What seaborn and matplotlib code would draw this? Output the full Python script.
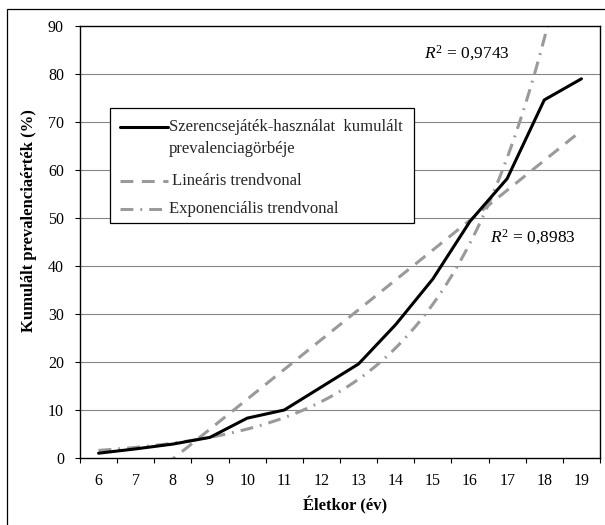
import numpy as np
import pandas as pd
import seaborn as sns
import matplotlib
matplotlib.use("Agg")
import matplotlib.pyplot as plt
from matplotlib.lines import Line2D
from matplotlib.patches import Rectangle

# Cumulative prevalence of gambling by age
ages = [6, 7, 8, 9, 10, 11, 12, 13, 14, 15, 16, 17, 18, 19]
prevalence = [1.0, 1.9, 2.9, 4.3, 8.3, 10.0, 14.8, 19.6, 27.8, 37.3, 49.3, 58.2, 74.6, 79.0]
y_ticks = [0, 10, 20, 30, 40, 50, 60, 70, 80, 90]

legend_labels = [
    "Szerencsejáték-használat  kumulált",
    "prevalenciagörbéje",
    "Lineáris trendvonal",
    "Exponenciális trendvonal",
]
r2_linear = "0,8983"
r2_exponential = "0,9743"
x_title = "Életkor (év)"
y_title = "Kumulált prevalenciaérték (%)"

sns.set_theme(style="white")
plt.rcParams["font.family"] = ["Liberation Serif", "DejaVu Serif"]
plt.rcParams["mathtext.fontset"] = "custom"
plt.rcParams["mathtext.rm"] = "Liberation Serif"
plt.rcParams["mathtext.it"] = "Liberation Serif:italic"

BLACK = "#000000"
TREND = "#9a9a9a"
GRID = "#868686"

df = pd.DataFrame({"age": ages, "prev": prevalence})

# Trend lines fitted on the category index (1..n), as a spreadsheet does
idx = np.arange(1, len(ages) + 1)
lin_coef = np.polyfit(idx, df["prev"], 1)
exp_coef = np.polyfit(idx, np.log(df["prev"]), 1)
grid_idx = np.linspace(1, len(ages), 300)
trend = pd.DataFrame({
    "age": grid_idx + ages[0] - 1,
    "lin": np.polyval(lin_coef, grid_idx),
    "exp": np.exp(np.polyval(exp_coef, grid_idx)),
})

fig = plt.figure(figsize=(6.05, 5.25), dpi=100)
ax = fig.add_axes([80 / 605, 1 - 458 / 525, 520 / 605, 432 / 525])

ax.set_xlim(ages[0] - 0.5, ages[-1] + 0.5)
ax.set_ylim(y_ticks[0], y_ticks[-1])

# Horizontal gridlines
for v in y_ticks[1:-1]:
    ax.axhline(v, color=GRID, lw=0.8, zorder=0)

DASH = (0, (4.2, 2.8))
DASHDOT = (0, (4.2, 2.3, 0.6, 2.3))

sns.lineplot(data=trend, x="age", y="lin", ax=ax, color=TREND, lw=2.2,
             linestyle=DASH, zorder=2)
sns.lineplot(data=trend, x="age", y="exp", ax=ax, color=TREND, lw=2.2,
             linestyle=DASHDOT, zorder=2)
sns.lineplot(data=df, x="age", y="prev", ax=ax, color=BLACK, lw=2.2, zorder=3)

# Category axis: ticks between categories, labels at centres
ax.set_xticks(np.arange(ages[0] - 0.5, ages[-1] + 1.0, 1.0))
ax.set_xticklabels([])
ax.set_xticks(ages, minor=True)
ax.set_xticklabels([str(a) for a in ages], minor=True)
ax.tick_params(axis="x", which="major", direction="out", length=3.6, width=0.8,
               color=BLACK, bottom=True)
ax.tick_params(axis="x", which="minor", length=0, pad=11, labelsize=11.5,
               labelcolor=BLACK, bottom=True)
ax.set_yticks(y_ticks)
ax.set_yticklabels([str(v) for v in y_ticks])
ax.tick_params(axis="y", direction="out", length=3.6, width=0.8, color=BLACK,
               pad=8, labelsize=11.5, labelcolor=BLACK, left=True)

for s in ax.spines.values():
    s.set_visible(True)
    s.set_color(BLACK)
    s.set_linewidth(1.0)

ax.set_xlabel(x_title, fontsize=12, fontweight="bold", color=BLACK)
ax.set_ylabel(y_title, fontsize=12, fontweight="bold", color=BLACK)
ax.xaxis.set_label_coords(0.51, -0.088)
ax.yaxis.set_label_coords(-0.083, 0.55)

# R² annotations
ax.text(14.77, 84.4, r"$R^2$ = " + r2_exponential, fontsize=12.5, va="center",
        ha="left", color=BLACK)
ax.text(16.53, 46.0, r"$R^2$ = " + r2_linear, fontsize=12.5, va="center",
        ha="left", color=BLACK)


def fx(px):
    return (px - 80) / 520


def fy(py):
    return (458 - py) / 432


# Legend box
ax.add_patch(Rectangle((fx(110), fy(223)), fx(414) - fx(110), fy(108) - fy(223),
                       transform=ax.transAxes, facecolor="white", edgecolor=BLACK,
                       lw=0.9, zorder=5))
handles = [
    (127, BLACK, "-"),
    (181, TREND, DASH),
    (209, TREND, DASHDOT),
]
for py, col, ls in handles:
    ax.add_line(Line2D([fx(120), fx(168)], [fy(py), fy(py)], transform=ax.transAxes,
                       color=col, lw=2.2, linestyle=ls, zorder=6))
legend_rows = [(169, 127), (169, 149), (172, 181), (169, 209)]
for label, (px, py) in zip(legend_labels, legend_rows):
    ax.text(fx(px), fy(py), label, transform=ax.transAxes, fontsize=12,
            va="center", ha="left", zorder=6)

# Chart-area frame
fig.add_artist(Rectangle((7 / 605, -0.5), 2.0, 0.5 + 1 - 9 / 525,
                         transform=fig.transFigure, fill=False, edgecolor=BLACK,
                         lw=0.9))

fig.savefig("out.png", dpi=100)
